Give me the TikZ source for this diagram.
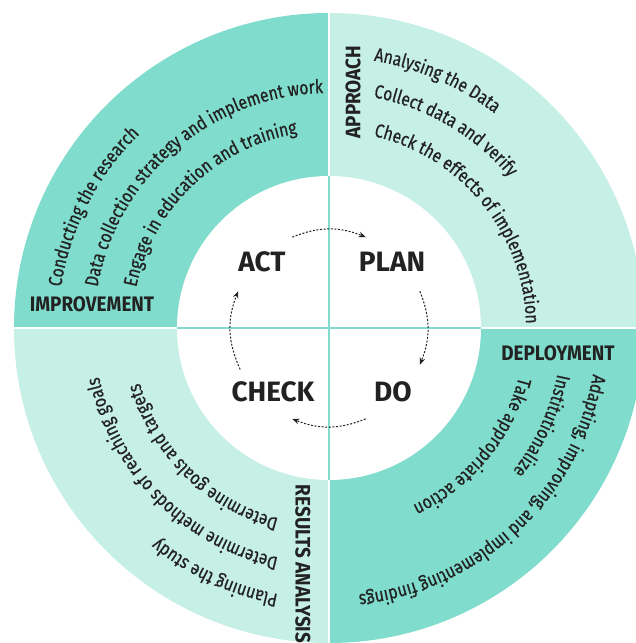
\documentclass[tikz,border=0pt]{standalone}
\usepackage{fontspec}
\setmainfont{Fira Sans}
\newfontfamily\condfont{Fira Sans}[FakeStretch=0.83, FakeBold=0.6]
\newfontfamily\headfont{Fira Sans}[FakeStretch=0.9]
\usepackage{tikz}
\usepackage{xcolor}
\usetikzlibrary{
    decorations.text,
    arrows.meta,
    positioning
}
\definecolor{tealdark}{RGB}{128,220,204}
\definecolor{teallight}{RGB}{198,239,229}
\definecolor{inkgray}{RGB}{34,34,34}
\newcommand{\itemfont}{\condfont\fontsize{19}{22}\selectfont\color{inkgray}}

\begin{document}
\begin{tikzpicture}[x=1pt, y=1pt,
    phase/.style={font=\fontsize{28}{30}\selectfont\bfseries, text=inkgray},
    head/.style={font=\headfont\fontsize{21}{24}\selectfont\bfseries, text=inkgray, inner sep=0pt},
    cycarrow/.style={-{Stealth[length=7pt, width=5.5pt]}, dash pattern=on 2pt off 1.6pt, line width=1pt, inkgray},
    itemline/.style={decorate, decoration={text along path, text align=left}}
]
    \useasboundingbox (-329, -315) rectangle (307, 328);

    % quadrants
    \fill[tealdark] (0, 0) -- (90:315) arc[start angle=90, end angle=180, radius=315] -- cycle;
    \fill[teallight] (0, 0) -- (0:315) arc[start angle=0, end angle=90, radius=315] -- cycle;
    \fill[teallight] (0, 0) -- (180:315) arc[start angle=180, end angle=270, radius=315] -- cycle;
    \fill[tealdark] (0, 0) -- (270:315) arc[start angle=270, end angle=360, radius=315] -- cycle;
    \draw[white, line width=2.5pt] (-316, 0) -- (316, 0);
    \draw[white, line width=2.5pt] (0, -316) -- (0, 316);
    \fill[white] (0, 0) circle[radius=152];
    \draw[tealdark, line width=2.5pt] (-152, 0) -- (152, 0);
    \draw[tealdark, line width=2.5pt] (0, -152) -- (0, 152);

    % headings
    \node[head] (impr) at (-237, 24) {IMPROVEMENT};
    \node[head, rotate=90] (appr) at (24, 236) {APPROACH};
    \node[head, rotate=-90] (resu) at (-26, -236) {RESULTS ANALYSIS};
    \node[head] (depl) at (229, -25) {DEPLOYMENT};

    % improvement
    \path[itemline, decoration={text={|\itemfont|Conducting the research}}]
        (171.3:271) arc[start angle=171.3, end angle=60, radius=271];
    \path[itemline, decoration={text={|\itemfont|Data collection strategy and implement work}}]
        (170:235) arc[start angle=170, end angle=40, radius=235];
    \path[itemline, decoration={text={|\itemfont|Engage in education and training}}]
        (168.1:197) arc[start angle=168.1, end angle=40, radius=197];

    % approach
    \path[itemline, decoration={text={|\itemfont|Analysing the Data}}]
        (80.5:271) arc[start angle=80.5, end angle=-30, radius=271];
    \path[itemline, decoration={text={|\itemfont|Collect data and verify}}]
        (79.1:235) arc[start angle=79.1, end angle=-30, radius=235];
    \path[itemline, decoration={text={|\itemfont|Check the effects of implementation}}]
        (76.9:197) arc[start angle=76.9, end angle=-50, radius=197];

    % results analysis
    \path[itemline, decoration={text={|\itemfont|Planning the study}}]
        (259.2:271) arc[start angle=259.2, end angle=150, radius=271];
    \path[itemline, decoration={text={|\itemfont|Determine methods of reaching goals}}]
        (257.6:235) arc[start angle=257.6, end angle=130, radius=235];
    \path[itemline, decoration={text={|\itemfont|Determine goals and targets}}]
        (255.2:197) arc[start angle=255.2, end angle=130, radius=197];

    % deployment
    \path[itemline, decoration={text={|\itemfont|Adapting, improving, and implementing findings}}]
        (-9.9:268) arc[start angle=-9.9, end angle=-130, radius=268];
    \path[itemline, decoration={text={|\itemfont|Institutionalize}}]
        (-11.4:233) arc[start angle=-11.4, end angle=-120, radius=233];
    \path[itemline, decoration={text={|\itemfont|Take appropriate action}}]
        (-14.5:196) arc[start angle=-14.5, end angle=-120, radius=196];

    % cycle
    \node[phase] (act) at (-67, 66) {ACT};
    \node[phase] (plan) at (63, 66) {PLAN};
    \node[phase] (check) at (-56, -64) {CHECK};
    \node[phase] (do) at (64, -64) {DO};

    \coordinate (c1) at (205:98);
    \coordinate (a1) at (158:98);
    \coordinate (a2) at (112:98);
    \coordinate (p1) at (68:98);
    \coordinate (p2) at (22:98);
    \coordinate (d1) at (-22:98);
    \coordinate (d2) at (-68:98);
    \coordinate (c2) at (-112:98);

    \draw[cycarrow] (c1) to[bend left=23] (a1);
    \draw[cycarrow] (a2) to[bend left=22] (p1);
    \draw[cycarrow] (p2) to[bend left=22] (d1);
    \draw[cycarrow] (d2) to[bend left=22] (c2);
\end{tikzpicture}
\end{document}
